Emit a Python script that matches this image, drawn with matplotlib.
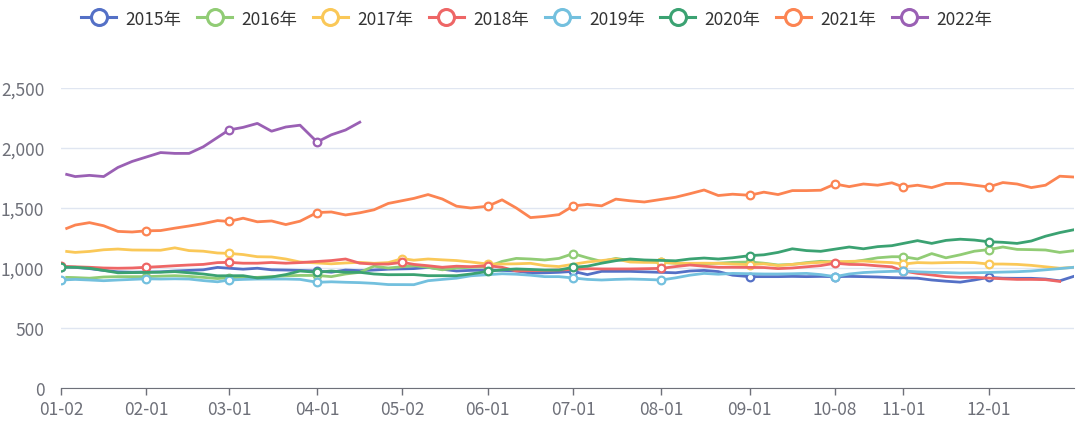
import numpy as np
import pandas as pd
import matplotlib
matplotlib.use('Agg')
import matplotlib.pyplot as plt
from matplotlib.ticker import FuncFormatter

plt.rcParams['font.family'] = ['Noto Sans CJK SC', 'DejaVu Sans']

# category axis: MM-DD of every day that traded in some year (common holidays dropped)
all_days = pd.date_range('2020-01-02', '2020-12-31').strftime('%m-%d').tolist()
holidays = ['05-01'] + ['10-0%d' % d for d in range(1, 8)]
days = [d for d in all_days if d not in holidays]

tick_dates = ['01-02', '02-01', '03-01', '04-01', '05-02', '06-01',
              '07-01', '08-01', '09-01', '10-08', '11-01', '12-01']

dates = ['01-02', '01-04', '01-07', '01-12', '01-17', '01-22', '01-27',
         '02-01', '02-06', '02-11', '02-16', '02-21', '02-26',
         '03-01', '03-06', '03-11', '03-16', '03-21', '03-26',
         '04-01', '04-06', '04-11', '04-16', '04-21', '04-26',
         '05-02', '05-06', '05-11', '05-16', '05-21', '05-26',
         '06-01', '06-06', '06-11', '06-16', '06-21', '06-26',
         '07-01', '07-06', '07-11', '07-16', '07-21', '07-26',
         '08-01', '08-06', '08-11', '08-16', '08-21', '08-26',
         '09-01', '09-06', '09-11', '09-16', '09-21', '09-26',
         '10-08', '10-13', '10-18', '10-23', '10-28',
         '11-01', '11-06', '11-11', '11-16', '11-21', '11-26',
         '12-01', '12-06', '12-11', '12-16', '12-21', '12-26', '12-31']

y2015 = [1010, 1008, 1005, 995, 980, 968, 965,
         None, 968, 975, 980, 985, 1005,
         None, 990, 998, 985, 983, 980,
         975, 965, 983, 978, 983, 990,
         None, 995, 1005, 990, 975, 980,
         983, 980, 975, 958, 960, 964,
         972, 945, 972, 972, 972, 968,
         None, 960, 975, 980, 970, 940,
         928, 928, 928, 930, 928, 930,
         928, 930, 928, 925, 920,
         None, 915, 900, 890, 882, 900,
         922, 915, 914, 914, 908, 893, 931]

y2016 = [None, 922, 920, 915, 925, 928, 928,
         928, 932, 936, 930, 922, 912,
         920, 922, 922, 928, 935, 938,
         938, 928, 950, 964, 1015, 1000,
         None, 1019, 1006, 985, 1000, 1006,
         1010, 1055, 1080, 1075, 1067, 1080,
         1120, 1085, 1055, 1080, 1062, 1056,
         1047, 1040, 1033, 1035, 1040, 1047,
         1050, 1040, 1025, 1030, 1045, 1056,
         None, 1048, 1065, 1085, 1094,
         1094, 1075, 1120, 1085, 1110, 1140,
         1153, 1175, 1155, 1153, 1150, 1130, 1144]

y2017 = [None, 1138, 1130, 1138, 1152, 1158, 1150,
         None, 1148, 1168, 1145, 1140, 1125,
         1122, 1112, 1094, 1092, 1075, 1050,
         None, 1035, 1042, 1047, 1039, 1045,
         1078, 1065, 1075, 1068, 1062, 1050,
         1033, 1033, 1035, 1039, 1020, 1012,
         None, 1050, 1062, 1075, 1050, 1047,
         1047, 1040, 1039, 1040, 1039, 1033,
         1028, 1035, 1020, 1030, 1040, 1047,
         None, 1055, 1058, 1050, 1045,
         1033, 1045, 1042, 1045, 1047, 1045,
         1033, 1033, 1030, 1022, 1010, 998, 1006]

y2018 = [1014, 1012, 1010, 1006, 1000, 998, 1000,
         1006, 1012, 1019, 1025, 1030, 1045,
         1047, 1040, 1040, 1046, 1040, 1045,
         None, 1062, 1075, 1040, 1033, 1033,
         1047, 1030, 1019, 1006, 1015, 1011,
         1019, 1006, 975, 978, 980, 983,
         None, 994, 992, 992, 992, 994,
         997, 1012, 1025, 1015, 1006, 1006,
         None, 1004, 995, 1000, 1010, 1020,
         1040, 1030, 1028, 1018, 1010,
         975, 955, 942, 928, 922, 922,
         None, 910, 905, 905, 903, 888, None]

y2019 = [900, 902, 905, 900, 894, 900, 905,
         910, 908, 910, 908, 895, 885,
         900, 905, 908, 908, 908, 905,
         881, 885, 881, 878, 872, 862,
         None, 861, 894, 905, 915, 935,
         None, 952, 948, 940, 928, 928,
         917, 905, 900, 905, 908, 905,
         900, 918, 940, 955, 948, 955,
         None, 950, 950, 952, 955, 945,
         928, 950, 962, 968, 972,
         975, 968, 964, 962, 958, 960,
         None, 966, 969, 975, 985, 995, 1006]

y2020 = [1006, 1006, 1006, 998, 980, 960, None,
         None, 965, 970, 960, 950, 935,
         None, 936, 917, 925, 945, 975,
         964, 975, 964, 964, 950, 944,
         None, 945, 936, 936, 936, 950,
         972, 985, 992, 988, 983, 983,
         1006, 1015, 1040, 1061, 1075, 1067,
         None, 1060, 1075, 1083, 1075, 1085,
         1103, 1110, 1130, 1160, 1145, 1139,
         None, 1175, 1160, 1178, 1186,
         None, 1228, 1205, 1230, 1240, 1233,
         1219, 1214, 1205, 1225, 1265, 1295, 1319]

y2021 = [None, 1330, 1358, 1378, 1352, 1305, 1300,
         1310, 1312, 1332, 1350, 1370, 1395,
         1388, 1415, 1385, 1392, 1362, 1390,
         1462, 1467, 1442, 1460, 1485, 1538,
         None, 1580, 1612, 1575, 1515, 1500,
         1515, 1568, 1500, 1420, 1430, 1445,
         1517, 1530, 1518, 1574, 1560, 1550,
         None, 1590, 1619, 1650, 1604, 1615,
         1606, 1632, 1612, 1645, 1645, 1648,
         1700, 1678, 1700, 1690, 1710,
         1675, 1690, 1670, 1705, 1705, 1690,
         1675, 1712, 1700, 1670, 1690, 1765, 1758]

y2022 = [None, 1780, 1762, 1772, 1762, 1838, 1888,
         None, 1962, 1955, 1955, 2010, 2088,
         2150, 2172, 2205, 2140, 2175, 2190,
         2050, 2110, 2150, 2215] + [None] * 50

names = ['2015年', '2016年', '2017年', '2018年', '2019年', '2020年', '2021年', '2022年']
series = [y2015, y2016, y2017, y2018, y2019, y2020, y2021, y2022]
colors = ['#5470c6', '#91cc75', '#fac858', '#ee6666',
          '#73c0de', '#3ba272', '#fc8452', '#9a60b4']

pos = np.array([days.index(d) for d in dates])
is_tick = np.array([d in tick_dates for d in dates])

fig = plt.figure(figsize=(10.8, 4.27), dpi=100)
ax = fig.add_axes([61/1080, 38/427, 1013/1080, 300/427])

handles = []
for name, vals, c in zip(names, series, colors):
    v = np.array([np.nan if x is None else x for x in vals], dtype=float)
    ok = ~np.isnan(v)
    x, y = pos[ok], v[ok]
    marks = np.where(is_tick[ok])[0].tolist()
    ax.plot(x, y, color=c, lw=2.0, marker='o', markevery=marks,
            markersize=5.5, markerfacecolor='white', markeredgewidth=1.6,
            solid_joinstyle='round')
    handles.append(plt.Line2D([], [], color=c, lw=2.2, marker='o', markersize=11.5,
                              markerfacecolor='white', markeredgewidth=2.2))

ax.set_xlim(0, len(days) - 1)
ax.set_ylim(0, 2500)
ax.set_yticks(np.arange(0, 2501, 500))
ax.yaxis.set_major_formatter(FuncFormatter(lambda v, p: f'{v:,.0f}'))
ax.set_xticks([days.index(d) for d in tick_dates])
ax.set_xticklabels(tick_dates)

ax.grid(axis='y', color='#E0E6F1', lw=1)
ax.set_axisbelow(True)
for s in ['top', 'right', 'left']:
    ax.spines[s].set_visible(False)
ax.spines['bottom'].set_color('#6E7079')
ax.tick_params(axis='y', length=0, pad=12, labelsize=12.5, labelcolor='#6E7079')
ax.tick_params(axis='x', length=5, width=1, color='#6E7079', pad=4,
               labelsize=12.5, labelcolor='#6E7079')

fig.legend(handles, names, loc='upper center', bbox_to_anchor=(0.497, 1.012), ncol=8,
           frameon=False, fontsize=12.5, handlelength=2.0, handletextpad=0.55,
           columnspacing=0.9, labelcolor='#333333')

fig.savefig('out.png', dpi=100)
